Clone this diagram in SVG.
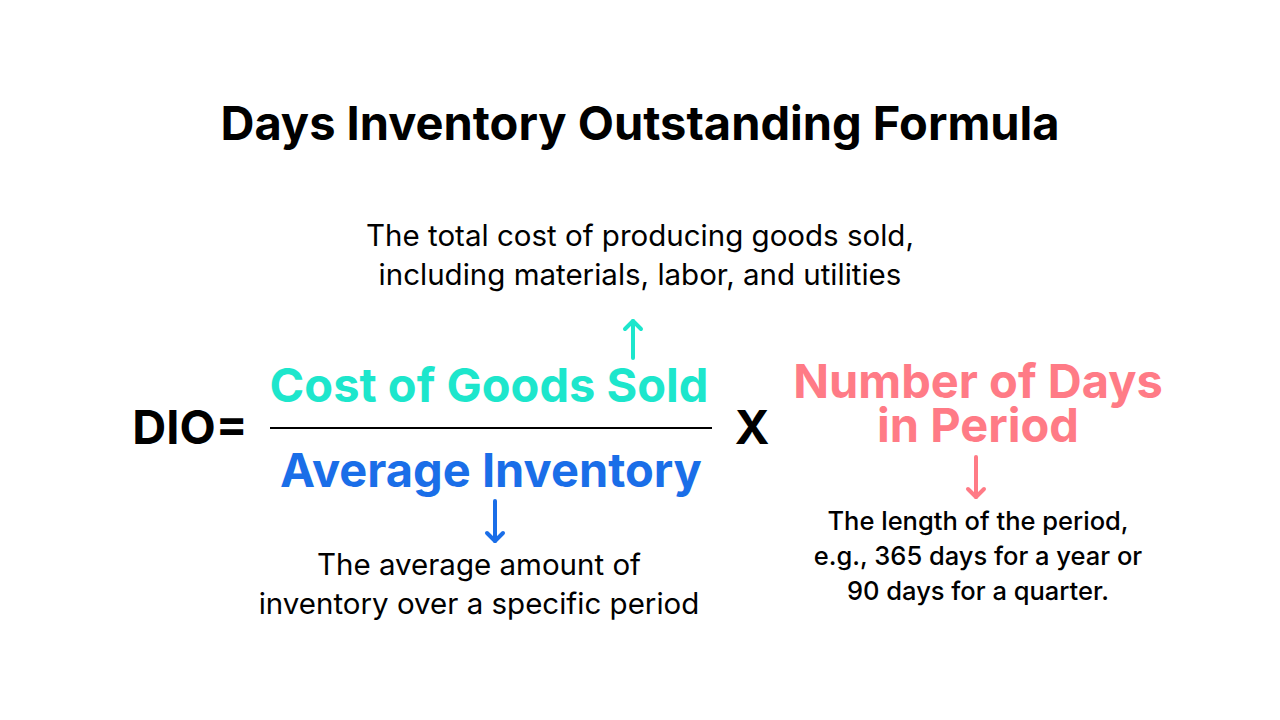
<svg xmlns="http://www.w3.org/2000/svg" width="1280" height="720" viewBox="0 0 1280 720">
<style>
text{font-family:Inter,"Liberation Sans",sans-serif;text-anchor:middle}
.title{font-size:47px;font-weight:700;fill:#000}
.desc{font-size:29.5px;font-weight:400;fill:#000}
.desc2{font-size:25.5px;font-weight:500;fill:#000}
.big{font-size:47px;font-weight:700}
.teal{fill:#1de6cc}
.blue{fill:#1a6ee8}
.pink{fill:#ff7b86}
.arrow{fill:none;stroke-width:4;stroke-linecap:round;stroke-linejoin:round}
</style>
<rect width="1280" height="720" fill="#fff"/>
<text class="title" x="640" y="140">Days Inventory Outstanding Formula</text>
<g id="dio"><text class="big" x="190" y="444" fill="#000">DIO=</text></g>
<g id="fraction-line"><line x1="270" y1="428" x2="712" y2="428" stroke="#000" stroke-width="2"/></g>
<g id="cogs">
<text class="big teal" x="489" y="402">Cost of Goods Sold</text>
</g>
<g id="cogs-desc">
<text class="desc" x="640" y="246">The total cost of producing goods sold,</text>
<text class="desc" x="640" y="285">including materials, labor, and utilities</text>
</g>
<g id="avg-inv">
<text class="big blue" x="491" y="487">Average Inventory</text>
</g>
<g id="avg-desc">
<text class="desc" x="479" y="575">The average amount of</text>
<text class="desc" x="479" y="614">inventory over a specific period</text>
</g>
<g id="times"><text class="big" x="752" y="444" fill="#000">X</text></g>
<g id="days">
<text class="big pink" x="978" y="398">Number of Days</text>
<text class="big pink" x="978" y="442">in Period</text>
</g>
<g id="days-desc">
<text class="desc2" x="978" y="530">The length of the period,</text>
<text class="desc2" x="978" y="565">e.g., 365 days for a year or</text>
<text class="desc2" x="978" y="600">90 days for a quarter.</text>
</g>
<g id="connectors">
<g stroke="#1de6cc" class="arrow"><line x1="633" y1="358" x2="633" y2="321"/><polyline points="625,329 633,321 641,329"/></g>
<g stroke="#1a6ee8" class="arrow"><line x1="495" y1="501" x2="495" y2="541"/><polyline points="487,533 495,541 503,533"/></g>
<g stroke="#ff7b86" class="arrow"><line x1="976" y1="457" x2="976" y2="497"/><polyline points="968,489 976,497 984,489"/></g>
</g>
</svg>
